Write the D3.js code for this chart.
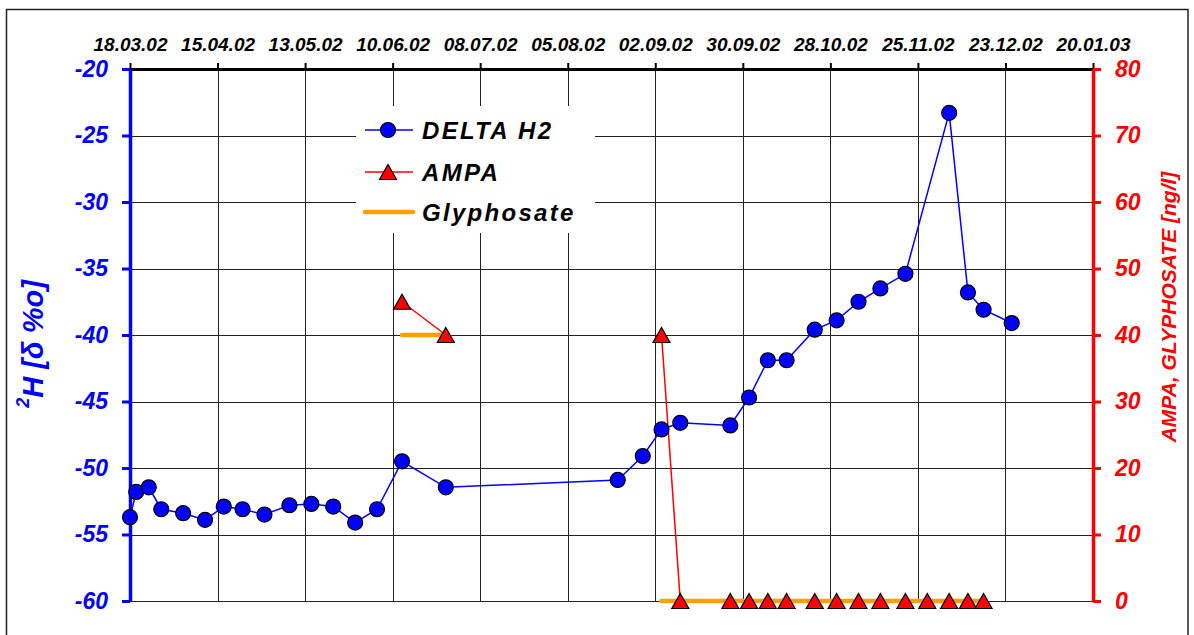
<!DOCTYPE html>
<html><head><meta charset="utf-8">
<script src="https://cdn.jsdelivr.net/npm/d3@7"></script>
<style>
body{margin:0;background:#fff;}
svg text{font-family:"Liberation Sans",Arial,sans-serif;font-weight:bold;font-style:italic;}
</style></head>
<body><svg id="chart" width="1194" height="635"></svg>
<script>
// ---- data ----
const dateTicks = ["18.03.02","15.04.02","13.05.02","10.06.02","08.07.02","05.08.02","02.09.02","30.09.02","28.10.02","25.11.02","23.12.02","20.01.03"];
const leftTicks = [-20,-25,-30,-35,-40,-45,-50,-55,-60];
const rightTicks = [80,70,60,50,40,30,20,10,0];

const deltaDates = ["18.03.02","20.03.02","24.03.02","28.03.02","04.04.02","11.04.02","17.04.02","23.04.02","30.04.02","08.05.02","15.05.02","22.05.02","29.05.02","05.06.02","13.06.02","27.06.02","21.08.02","29.08.02","04.09.02","10.09.02","26.09.02","02.10.02","08.10.02","14.10.02","23.10.02","30.10.02","06.11.02","13.11.02","21.11.02","05.12.02","11.12.02","16.12.02","25.12.02"];
const deltaValues = [-53.7,-51.8,-51.45,-53.1,-53.4,-53.9,-52.9,-53.1,-53.5,-52.8,-52.7,-52.9,-54.1,-53.1,-49.5,-51.45,-50.9,-49.1,-47.1,-46.6,-46.8,-44.7,-41.9,-41.9,-39.6,-38.9,-37.5,-36.5,-35.4,-23.3,-36.8,-38.1,-39.1];

const ampaDates = ["13.06.02","27.06.02","15.07.02","04.09.02","10.09.02","26.09.02","02.10.02","08.10.02","14.10.02","23.10.02","30.10.02","06.11.02","13.11.02","21.11.02","28.11.02","05.12.02","11.12.02","16.12.02"];
const ampaValues = [45,40,null,40,0,0,0,0,0,0,0,0,0,0,0,0,0,0];
const glyphoValues = [40,40,null,0,0,0,0,0,0,0,0,0,0,0,0,0,0,0];

// ---- setup ----
const parse = d3.utcParse("%d.%m.%y");
const svg = d3.select("#chart");
const L = 130, R = 1093, T = 69, B = 601;

const x = d3.scaleUtc().domain([parse(dateTicks[0]), parse(dateTicks[dateTicks.length-1])]).range([L, R]);
const yL = d3.scaleLinear().domain([-60, -20]).range([B, T]);
const yR = d3.scaleLinear().domain([0, 80]).range([B, T]);

svg.append("rect").attr("width",1194).attr("height",635).attr("fill","#fff");
svg.append("rect").attr("x",6.5).attr("y",9.5).attr("width",1181.5).attr("height",640)
  .attr("fill","none").attr("stroke","#222").attr("stroke-width",1.5);

// gridlines
const grid = svg.append("g").attr("stroke","#222").attr("stroke-width",1);
dateTicks.slice(1,-1).forEach(t=>{
  const xx = Math.round(x(parse(t)))+0.5;
  grid.append("line").attr("x1",xx).attr("x2",xx).attr("y1",T).attr("y2",B);
});
leftTicks.forEach(v=>{
  const yy = Math.round(yL(v))+0.5;
  grid.append("line").attr("x1",L).attr("x2",R).attr("y1",yy).attr("y2",yy);
});

// legend
const lg = svg.append("g");
lg.append("rect").attr("x",356).attr("y",106).attr("width",239).attr("height",127).attr("fill","#fff");
const tri = "M0,-7.5L8.5,7.5L-8.5,7.5Z";
lg.append("line").attr("x1",365).attr("x2",413).attr("y1",130).attr("y2",130).attr("stroke","#0000ff").attr("stroke-width",1.5);
lg.append("circle").attr("cx",388).attr("cy",130).attr("r",7.5).attr("fill","#0000ff").attr("stroke","#000").attr("stroke-width",1.2);
lg.append("line").attr("x1",365).attr("x2",413).attr("y1",172).attr("y2",172).attr("stroke","#ff0000").attr("stroke-width",1.5);
lg.append("path").attr("d",tri).attr("transform","translate(388,172)").attr("fill","#ff0000").attr("stroke","#000").attr("stroke-width",1.2);
lg.append("line").attr("x1",365).attr("x2",413).attr("y1",212).attr("y2",212).attr("stroke","#ffa000").attr("stroke-width",4.5).attr("stroke-linecap","round");
const legTexts = [["DELTA H2",130],["AMPA",172],["Glyphosate",212]];
legTexts.forEach(([t,yy])=>{
  lg.append("text").attr("x",422).attr("y",yy).attr("dy","0.36em").attr("font-size",24)
    .attr("letter-spacing",2.3).attr("fill","#000").text(t);
});

// axes
const topAxis = svg.append("g").attr("transform",`translate(0,${T})`)
  .call(d3.axisTop(x).tickValues(dateTicks.map(parse)).tickFormat(d3.utcFormat("%d.%m.%y")).tickSize(6).tickPadding(12).tickSizeOuter(0));
topAxis.select(".domain").attr("stroke","#000").attr("stroke-width",3);
topAxis.selectAll(".tick line").attr("stroke","#000").attr("stroke-width",2);
topAxis.selectAll(".tick text").attr("font-size",19).attr("fill","#000").attr("font-family",null);

const leftAxis = svg.append("g").attr("transform",`translate(${L},0)`)
  .call(d3.axisLeft(yL).tickValues(leftTicks).tickFormat(d=>String(d)).tickSize(8).tickPadding(14).tickSizeOuter(0));
leftAxis.select(".domain").attr("stroke","#0000ff").attr("stroke-width",3.5);
leftAxis.selectAll(".tick line").attr("stroke","#0000ff").attr("stroke-width",3);
leftAxis.selectAll(".tick text").attr("font-size",23).attr("fill","#0000ff").attr("font-family",null);

const rightAxis = svg.append("g").attr("transform",`translate(${R},0)`)
  .call(d3.axisRight(yR).tickValues(rightTicks).tickFormat(d=>String(d)).tickSize(8).tickPadding(14).tickSizeOuter(0));
rightAxis.select(".domain").attr("stroke","#ff0000").attr("stroke-width",3.5);
rightAxis.selectAll(".tick line").attr("stroke","#ff0000").attr("stroke-width",3);
rightAxis.selectAll(".tick text").attr("font-size",23).attr("fill","#ff0000").attr("font-family",null);

svg.selectAll(".tick text").attr("font-weight","bold").attr("font-style","italic");

// axis titles
const lt = svg.append("text").attr("transform","translate(45,344) rotate(-90)").attr("text-anchor","middle")
  .attr("dy","0.36em").attr("font-size",29).attr("fill","#0000ff");
lt.append("tspan").attr("font-size",18).attr("dy","-0.9em").text("2");
lt.append("tspan").attr("dy","0.5em").text("H [δ %o]");

svg.append("text").attr("transform","translate(1168,307) rotate(-90)").attr("text-anchor","middle")
  .attr("dy","0.36em").attr("font-size",21).attr("fill","#ff0000").text("AMPA, GLYPHOSATE [ng/l]");

// series
const ampa = ampaDates.map((d,i)=>({d:parse(d), v:ampaValues[i]}));
const glyp = ampaDates.map((d,i)=>({d:parse(d), v:glyphoValues[i]}));
const delta = deltaDates.map((d,i)=>({d:parse(d), v:deltaValues[i]}));

const lineR = d3.line().defined(p=>p.v!==null).x(p=>x(p.d)).y(p=>yR(p.v));
const lineL = d3.line().x(p=>x(p.d)).y(p=>yL(p.v));

svg.append("path").datum(ampa).attr("d",lineR).attr("fill","none").attr("stroke","#ff0000").attr("stroke-width",1.5);
svg.append("path").datum(glyp).attr("d",lineR).attr("fill","none").attr("stroke","#ffa000").attr("stroke-width",4.5).attr("stroke-linecap","round");
svg.append("path").datum(delta).attr("d",lineL).attr("fill","none").attr("stroke","#0000ff").attr("stroke-width",1.5);

svg.append("g").selectAll("path").data(ampa.filter(p=>p.v!==null)).join("path")
  .attr("d",tri).attr("transform",p=>`translate(${x(p.d)},${yR(p.v)})`)
  .attr("fill","#ff0000").attr("stroke","#000").attr("stroke-width",1.2);

svg.append("g").selectAll("circle").data(delta).join("circle")
  .attr("cx",p=>x(p.d)).attr("cy",p=>yL(p.v)).attr("r",7.5)
  .attr("fill","#0000ff").attr("stroke","#000").attr("stroke-width",1.2);
</script></body></html>
